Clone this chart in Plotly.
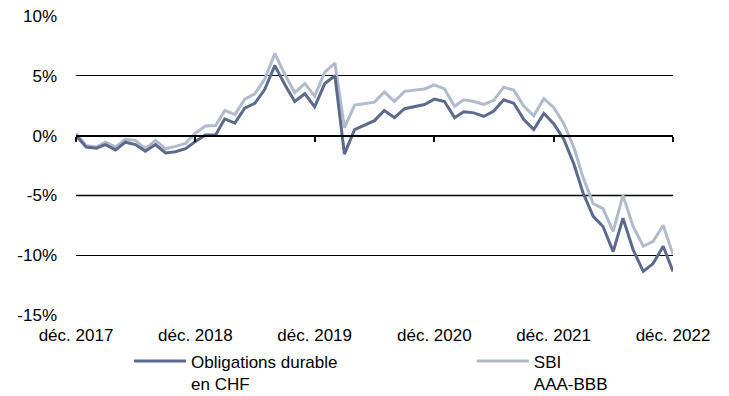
import pandas as pd
import plotly.graph_objects as go

# Monthly cumulative performance (%), Dec 2017 - Dec 2022
months = pd.date_range("2017-12-01", periods=61, freq="MS")

obligations_durable_chf = [
    0.0, -0.95, -1.05, -0.75, -1.2, -0.55, -0.75, -1.3, -0.75, -1.45, -1.35, -1.1,
    -0.5, 0.05, 0.05, 1.4, 1.05, 2.3, 2.7, 3.85, 5.85, 4.25, 2.85, 3.5,
    2.4, 4.35, 5.0, -1.55, 0.5, 0.85, 1.25, 2.1, 1.5, 2.25, 2.4, 2.6,
    3.05, 2.85, 1.5, 2.0, 1.9, 1.6, 2.05, 3.0, 2.7, 1.35, 0.5, 1.85,
    1.0, -0.3, -2.4, -4.8, -6.75, -7.6, -9.7, -6.9, -9.55, -11.35, -10.7, -9.25, -11.35,
]

sbi_aaa_bbb = [
    0.2, -0.85, -0.95, -0.55, -0.95, -0.3, -0.4, -1.1, -0.4, -1.1, -0.9, -0.65,
    0.2, 0.8, 0.85, 2.1, 1.75, 3.05, 3.5, 4.7, 6.85, 5.1, 3.6, 4.35,
    3.3, 5.3, 6.05, 0.65, 2.55, 2.65, 2.8, 3.65, 2.85, 3.7, 3.8, 3.9,
    4.25, 3.9, 2.45, 3.0, 2.85, 2.6, 2.95, 4.05, 3.8, 2.45, 1.65, 3.1,
    2.35, 1.0, -1.0, -3.5, -5.7, -6.1, -8.0, -5.0, -7.6, -9.25, -8.85, -7.5, -9.95,
]

tick_dates = ["2017-12-01", "2018-12-01", "2019-12-01", "2020-12-01", "2021-12-01", "2022-12-01"]
tick_labels = ["déc. 2017", "déc. 2018", "déc. 2019", "déc. 2020", "déc. 2021", "déc. 2022"]
y_ticks = [-15, -10, -5, 0, 5, 10]
y_labels = ["-15%", "-10%", "-5%", "0%", "5%", "10%"]

DARK = "#5b6a8d"
LIGHT = "#b2bbcb"
FONT = "Liberation Sans, Arial, sans-serif"

fig = go.Figure()
# light series first so the dark one sits on top
fig.add_trace(go.Scatter(
    x=months, y=sbi_aaa_bbb, mode="lines",
    name="SBI<br>AAA-BBB", legend="legend2",
    line=dict(color=LIGHT, width=3),
))
fig.add_trace(go.Scatter(
    x=months, y=obligations_durable_chf, mode="lines",
    name="Obligations durable<br>en CHF", legend="legend",
    line=dict(color=DARK, width=3),
))

# zero line carrying the year ticks
fig.add_trace(go.Scatter(x=[months[0]], y=[0], xaxis="x2", mode="markers",
                         marker=dict(opacity=0), showlegend=False, hoverinfo="skip"))

fig.add_shape(type="line", xref="paper", x0=0, x1=1, yref="y", y0=-5, y1=-5,
              line=dict(color="#808080", width=2), layer="below")

legend_common = dict(
    orientation="h", yanchor="top", xanchor="left", y=-0.095,
    valign="top", itemwidth=52, font=dict(size=17),
    bgcolor="rgba(0,0,0,0)",
)

fig.update_layout(
    width=729, height=396,
    margin=dict(l=76, r=56, t=16, b=81, autoexpand=False),
    paper_bgcolor="white", plot_bgcolor="white",
    font=dict(family=FONT, size=17, color="#000000"),
    xaxis=dict(
        range=[months[0], months[-1]],
        tickvals=tick_dates, ticktext=tick_labels,
        showgrid=False, zeroline=False, showline=False,
        ticks="", ticklabelstandoff=8,
    ),
    xaxis2=dict(
        overlaying="x", matches="x", anchor="free", position=0.6,
        tickvals=tick_dates, showticklabels=False,
        showline=True, linecolor="#000000", linewidth=2,
        ticks="outside", ticklen=5, tickwidth=2, tickcolor="#000000",
        showgrid=False, zeroline=False,
    ),
    yaxis=dict(
        range=[-15, 10], tickvals=y_ticks, ticktext=y_labels,
        showgrid=True, gridcolor="#000000", gridwidth=1,
        zeroline=False, showline=False, ticks="", ticklabelstandoff=18,
    ),
    legend=dict(x=0.0888, **legend_common),
    legend2=dict(x=0.663, **legend_common),
    showlegend=True,
)

fig.write_html("out.html")
